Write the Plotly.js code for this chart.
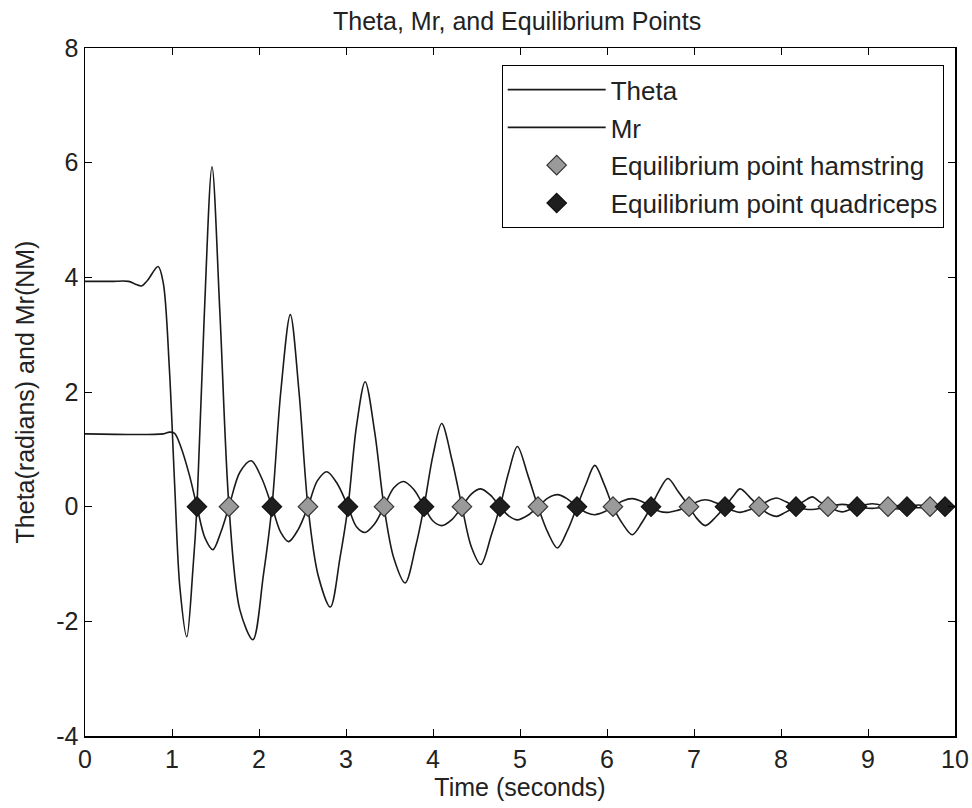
<!DOCTYPE html>
<html>
<head>
<meta charset="utf-8">
<script src="https://cdn.plot.ly/plotly-3.0.1.min.js"></script>
<style>html,body{margin:0;padding:0;background:#fff;}#chart{width:972px;height:808px;}</style>
</head>
<body>
<div id="chart"></div>
<script>
// Theta (smaller oscillation, starts near 1.27)
const thetaT = [0,0.9,0.97,1.03,1.1,1.2,1.287,1.38,1.47,1.56,1.655,1.78,1.91,2.03,2.149,2.25,2.34,2.45,2.563,2.67,2.78,2.9,3.023,3.12,3.22,3.33,3.437,3.55,3.66,3.78,3.897,4.0,4.1,4.22,4.333,4.44,4.55,4.66,4.77,4.87,4.97,5.09,5.207,5.32,5.43,5.54,5.655,5.76,5.86,5.97,6.069,6.18,6.29,6.4,6.506,6.6,6.7,6.82,6.943,7.03,7.13,7.25,7.356,7.45,7.53,7.65,7.747,7.85,7.95,8.05,8.172,8.27,8.36,8.45,8.54,8.7,8.874,9.05,9.23,9.35,9.448,9.58,9.713,10];
const thetaV = [1.27,1.27,1.3,1.28,1.05,0.55,0,-0.55,-0.75,-0.45,0,0.6,0.8,0.5,0,-0.45,-0.61,-0.4,0,0.45,0.61,0.4,0,-0.35,-0.45,-0.3,0,0.33,0.44,0.3,0,-0.25,-0.33,-0.22,0,0.22,0.31,0.2,0,-0.16,-0.23,-0.15,0,0.15,0.21,0.14,0,-0.1,-0.14,-0.09,0,0.1,0.14,0.09,0,-0.08,-0.1,-0.06,0,0.08,0.12,0.07,0,-0.07,-0.1,-0.05,0,0.1,0.15,0.09,0,-0.04,-0.05,-0.03,0,0.04,0,-0.03,0,0.02,0,-0.02,0,0];
// Mr (larger oscillation, starts near 3.9)
const mrT = [0,0.3,0.5,0.58,0.65,0.72,0.84,0.9,0.97,1.03,1.09,1.17,1.24,1.287,1.37,1.46,1.55,1.655,1.78,1.93,2.05,2.149,2.25,2.36,2.46,2.563,2.68,2.82,2.93,3.023,3.12,3.22,3.33,3.437,3.55,3.68,3.8,3.897,4.0,4.1,4.22,4.333,4.44,4.55,4.67,4.77,4.87,4.97,5.09,5.207,5.32,5.43,5.55,5.655,5.76,5.86,5.97,6.069,6.18,6.29,6.4,6.506,6.6,6.7,6.82,6.943,7.03,7.13,7.25,7.356,7.45,7.53,7.65,7.747,7.85,7.95,8.05,8.172,8.27,8.36,8.45,8.54,8.7,8.874,9.05,9.23,9.35,9.448,9.58,9.713,9.8,10];
const mrV = [3.93,3.93,3.93,3.88,3.85,3.95,4.19,3.9,2.4,0.4,-1.4,-2.27,-1.1,0,3.3,5.93,3.4,0,-1.8,-2.32,-1.2,0,2.0,3.35,2.0,0,-1.2,-1.75,-0.9,0,1.4,2.18,1.3,0,-0.9,-1.33,-0.7,0,0.9,1.45,0.8,0,-0.7,-1.01,-0.5,0,0.6,1.05,0.55,0,-0.45,-0.72,-0.4,0,0.4,0.72,0.38,0,-0.3,-0.49,-0.28,0,0.28,0.49,0.26,0,-0.2,-0.33,-0.18,0,0.18,0.31,0.15,0,-0.12,-0.17,-0.1,0,0.1,0.17,0.08,0,-0.09,0,0.05,0,-0.04,0,0.03,0,-0.02,0];
// Equilibrium points
const hamT = [1.655,2.563,3.437,4.333,5.207,6.069,6.943,7.747,8.54,9.23,9.713];
const hamV = [0,0,0,0,0,0,0,0,0,0,0];
const quadT = [1.287,2.149,3.023,3.897,4.77,5.655,6.506,7.356,8.172,8.874,9.448,9.885];
const quadV = [0,0,0,0,0,0,0,0,0,0,0,0];
const xTicks = [0,1,2,3,4,5,6,7,8,9,10];
const yTicks = [-4,-2,0,2,4,6,8];

const FONT = 'Liberation Sans, Arial, sans-serif';
const lineStyle = {color:'#1a1a1a', width:1.6, shape:'spline', smoothing:0.9};
const traces = [
  {x: thetaT, y: thetaV, mode:'lines', name:'Theta', line: lineStyle, legendgroup:'a'},
  {x: mrT, y: mrV, mode:'lines', name:'Mr', line: lineStyle, legendgroup:'b'},
  {x: hamT, y: hamV, mode:'markers', name:'Equilibrium point hamstring', legendgroup:'c',
   marker:{symbol:'diamond', size:15, color:'#9a9a9a', line:{color:'#333', width:1.2}}},
  {x: quadT, y: quadV, mode:'markers', name:'Equilibrium point quadriceps', legendgroup:'d',
   marker:{symbol:'diamond', size:15, color:'#1e1e1e', line:{color:'#111', width:1.2}}}
];
const axisCommon = {
  showgrid:false, zeroline:false, showline:true, linecolor:'#000', linewidth:1.5,
  mirror:'ticks', ticks:'inside', ticklen:7, tickcolor:'#000', tickwidth:1,
  tickfont:{family:FONT, size:25, color:'#222'}
};
const layout = {
  width:972, height:808,
  margin:{l:85, r:17, t:48, b:72},
  paper_bgcolor:'#fff', plot_bgcolor:'#fff',
  title:{text:'Theta, Mr, and Equilibrium Points', font:{family:FONT, size:25, color:'#222'}, x:0.532, xanchor:'center', y:0.974, yanchor:'middle'},
  xaxis: Object.assign({}, axisCommon, {range:[0,10], tickvals:xTicks, ticktext:xTicks.map(String),
    title:{text:'Time (seconds)', font:{family:FONT, size:25, color:'#222'}, standoff:5}}),
  yaxis: Object.assign({}, axisCommon, {range:[-4,8], tickvals:yTicks, ticktext:yTicks.map(String),
    title:{text:'Theta(radians) and Mr(NM)', font:{family:FONT, size:25, color:'#222'}, standoff:14}}),
  showlegend:true,
  legend:{x:0.987, xanchor:'right', y:0.975, yanchor:'top', bgcolor:'#fff', bordercolor:'#000', borderwidth:1,
    font:{family:FONT, size:26, color:'#222'}, traceorder:'grouped', tracegroupgap:1, itemwidth:98}
};
Plotly.newPlot('chart', traces, layout, {displayModeBar:false, staticPlot:true});
</script>
</body>
</html>
